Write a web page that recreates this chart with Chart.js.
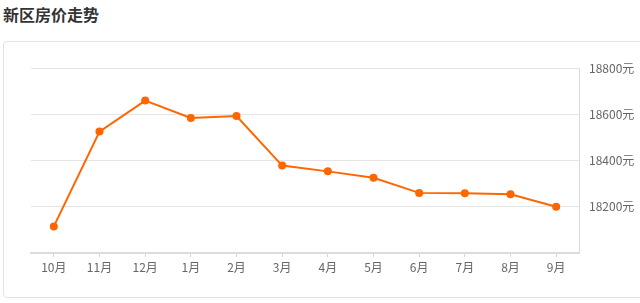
<!DOCTYPE html>
<html>
<head>
<meta charset="utf-8">
<script src="https://cdn.jsdelivr.net/npm/chart.js@4"></script>
<style>
  html, body { margin: 0; padding: 0; background: #fff; width: 640px; height: 303px; overflow: hidden; }
  #title { position: absolute; left: 3px; top: 3px; font-family: "Noto Sans CJK SC", sans-serif; font-weight: bold; font-size: 16px; color: #333; line-height: 22px; }
  #card { position: absolute; left: 3px; top: 41px; width: 700px; height: 257px; border: 1px solid #e3e3e3; border-radius: 4px; box-sizing: border-box; }
  #c { position: absolute; left: 0; top: 0; }
</style>
</head>
<body>
<div id="title">新区房价走势</div>
<div id="card"></div>
<canvas id="c" width="640" height="303"></canvas>
<script>
const CATEGORIES = ["10月", "11月", "12月", "1月", "2月", "3月", "4月", "5月", "6月", "7月", "8月", "9月"];
const PRICES = [18115, 18525, 18659, 18584, 18592, 18378, 18353, 18325, 18260, 18258, 18254, 18200];
const Y_TICKS = [18200, 18400, 18600, 18800];
const Y_MIN = 18000;
const Y_MAX = 18800;

const FONT = "'Noto Sans CJK SC', sans-serif";

new Chart(document.getElementById('c'), {
  type: 'line',
  data: {
    labels: CATEGORIES,
    datasets: [{
      data: PRICES,
      borderColor: '#ff6600',
      backgroundColor: '#ff6600',
      borderWidth: 2,
      pointRadius: 4,
      pointBorderWidth: 0,
      pointBackgroundColor: '#ff6600',
      tension: 0,
      fill: false
    }]
  },
  options: {
    responsive: false,
    animation: false,
    plugins: { legend: { display: false }, tooltip: { enabled: false } },
    layout: { padding: { left: 31, top: 68, right: 0, bottom: 0 } },
    scales: {
      x: {
        offset: true,
        grid: { drawOnChartArea: false, drawTicks: true, tickLength: 4, color: '#d6d6d6', offset: false },
        border: { color: '#dcdcdc', width: 2 },
        ticks: { color: '#666', font: { family: FONT, size: 12 }, padding: 3, maxRotation: 0, autoSkip: false },
        afterFit: s => { s.height = 50; }
      },
      y: {
        position: 'right',
        min: Y_MIN,
        max: Y_MAX,
        afterBuildTicks: s => { s.ticks = Y_TICKS.map(v => ({ value: v })); },
        grid: { color: '#e4e4e4', lineWidth: 1, drawTicks: false },
        border: { color: '#dcdcdc', width: 1 },
        ticks: { color: '#666', font: { family: FONT, size: 12 }, padding: 10, callback: v => v + '元' },
        afterFit: s => { s.width = 61; }
      }
    }
  }
});
</script>
</body>
</html>
